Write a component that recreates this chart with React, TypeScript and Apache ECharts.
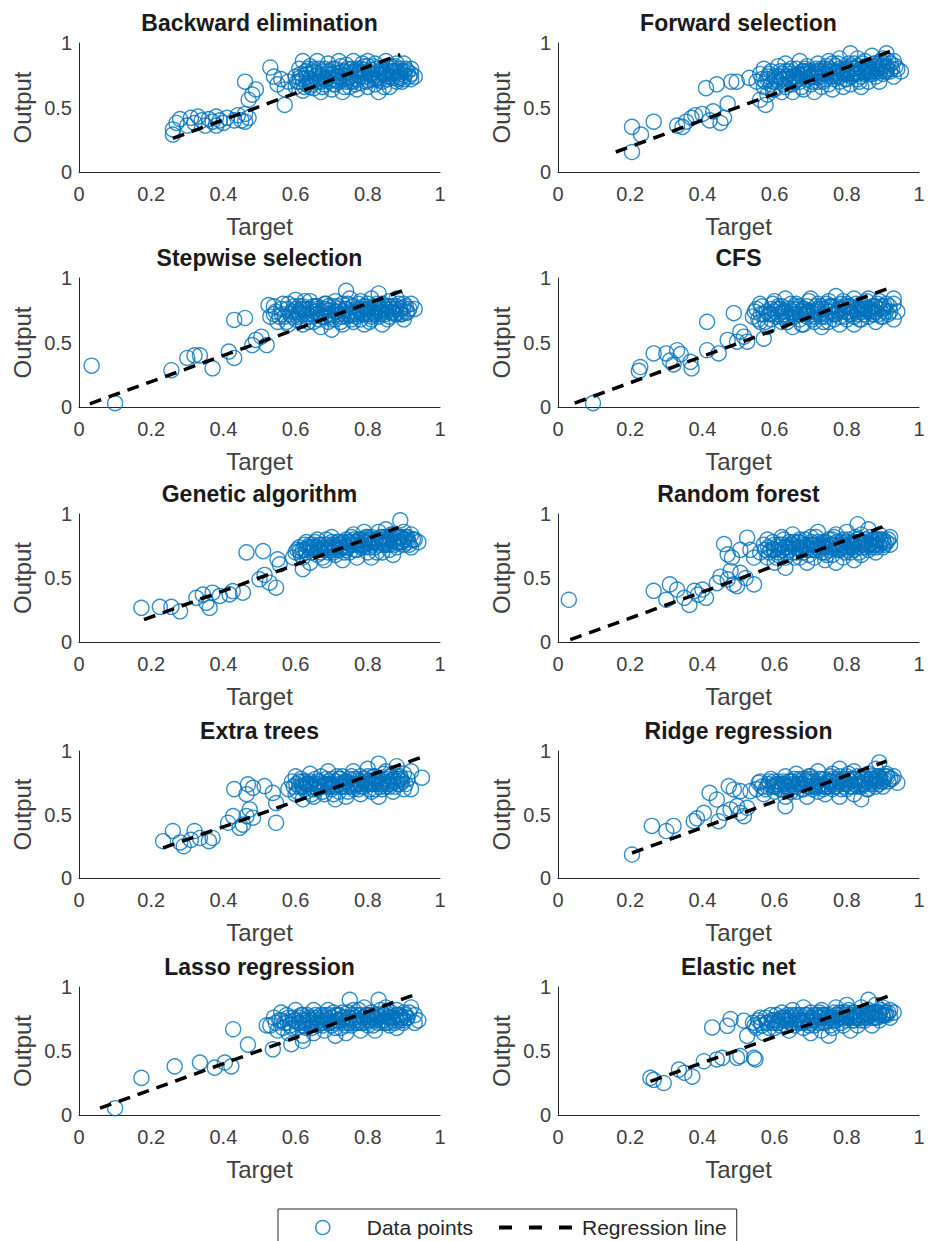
import React, { useEffect, useRef } from "react";
import * as echarts from "echarts";

const titles = [
  "Backward elimination",
  "Forward selection",
  "Stepwise selection",
  "CFS",
  "Genetic algorithm",
  "Random forest",
  "Extra trees",
  "Ridge regression",
  "Lasso regression",
  "Elastic net",
];

const xTickInterval = 0.2;
const yTickInterval = 0.5;

// ---- Backward elimination ----
const backwardPts = [
  [.26,.29],[.26,.33],[.27,.38],[.28,.41],[.30,.36],[.31,.42],[.32,.38],[.33,.43],[.34,.40],[.35,.36],[.36,.41],[.37,.39],[.38,.43],[.38,.36],[.39,.40],[.40,.38],[.41,.42],[.43,.40],[.44,.44],[.45,.40],[.46,.45],[.46,.39],[.47,.42],[.46,.70],[.47,.56],[.48,.60],[.49,.64],[.53,.81],[.54,.74],[.55,.68],[.56,.72],[.57,.52],[.57,.64],[.58,.70],
  [.60,.66],[.60,.74],[.61,.70],[.61,.80],[.62,.63],[.62,.86],[.63,.68],[.63,.76],[.64,.72],[.64,.82],[.65,.65],[.65,.78],[.66,.70],[.66,.86],[.67,.74],[.67,.62],[.68,.80],[.68,.68],[.69,.76],[.69,.84],[.70,.64],[.70,.72],[.71,.80],[.71,.68],[.72,.86],[.72,.74],[.73,.62],[.73,.78],[.74,.70],[.74,.83],[.75,.66],[.75,.76],[.76,.72],[.76,.86],[.77,.80],[.77,.64],[.78,.74],[.78,.69],[.79,.82],[.79,.77],[.80,.66],[.80,.86],[.81,.72],[.81,.79],[.82,.68],[.82,.84],[.83,.75],[.83,.62],[.84,.80],[.84,.70],[.85,.86],[.85,.76],[.86,.66],[.86,.82],[.87,.73],[.87,.78],[.88,.70],[.88,.84],[.89,.76],[.89,.80],[.90,.72],[.90,.84],[.91,.78],[.92,.80],[.93,.74],[.92,.76],
  [.605,.70],[.615,.76],[.625,.66],[.635,.80],[.645,.68],[.655,.74],[.665,.80],[.675,.66],[.685,.72],[.695,.78],[.705,.68],[.715,.74],[.725,.82],[.735,.66],[.745,.74],[.755,.80],[.765,.68],[.775,.76],[.785,.84],[.795,.70],[.805,.76],[.815,.82],[.825,.72],[.835,.78],[.845,.66],[.855,.72],[.865,.78],[.875,.82],[.885,.74],[.895,.70],[.905,.80],[.915,.74],[.62,.72],[.66,.76],[.70,.76],[.74,.78],[.78,.78],[.82,.72],[.86,.74],[.90,.78],[.64,.66],[.68,.72],[.72,.70],[.76,.70],[.80,.82],[.84,.76],[.88,.78],[.92,.72],
];
const backwardCore = [
  [.612,.73],[.628,.78],[.642,.70],[.652,.77],[.668,.72],[.678,.78],[.692,.70],[.702,.80],[.712,.71],[.722,.77],[.732,.72],[.742,.80],[.752,.70],[.762,.78],[.772,.72],[.782,.80],[.792,.74],[.802,.71],[.812,.77],[.822,.80],[.832,.71],[.842,.78],[.852,.74],[.862,.80],[.872,.76],[.882,.72],[.892,.78],[.902,.75],[.63,.73],[.67,.70],[.71,.77],[.75,.73],[.79,.79],[.83,.73],[.87,.81],[.65,.80],[.69,.73],[.73,.75],[.77,.78],[.81,.75],[.85,.79],[.89,.73],
];
const backwardLine = [[.26,.26],[.89,.91]];

// ---- Forward selection ----
const forwardPts = [
  [.205,.35],[.205,.155],[.23,.29],[.265,.39],[.33,.36],[.345,.35],[.355,.39],[.37,.42],[.38,.44],[.40,.45],[.42,.40],[.43,.47],[.45,.38],[.46,.42],[.41,.65],[.47,.53],[.44,.68],[.48,.70],[.495,.70],[.53,.73],[.56,.56],[.575,.52],
  [.55,.70],[.56,.76],[.57,.66],[.57,.80],[.58,.72],[.58,.60],[.59,.68],[.59,.78],[.60,.64],[.60,.74],[.61,.82],[.61,.70],[.62,.76],[.62,.62],[.63,.66],[.63,.84],[.64,.72],[.64,.78],[.65,.62],[.65,.68],[.66,.80],[.66,.74],[.67,.70],[.67,.86],[.68,.64],[.68,.76],[.69,.72],[.69,.82],[.70,.68],[.70,.78],[.71,.62],[.71,.74],[.72,.84],[.72,.70],[.73,.80],[.73,.66],[.74,.76],[.74,.72],[.75,.86],[.75,.68],[.76,.78],[.76,.64],[.77,.74],[.77,.82],[.78,.70],[.78,.88],[.79,.76],[.79,.66],[.80,.80],[.80,.72],[.81,.92],[.81,.68],[.82,.84],[.82,.76],[.83,.72],[.83,.88],[.84,.80],[.84,.66],[.85,.76],[.85,.86],[.86,.70],[.86,.82],[.87,.78],[.87,.90],[.88,.74],[.88,.84],[.89,.80],[.89,.70],[.90,.88],[.90,.76],[.91,.82],[.91,.92],[.92,.78],[.93,.86],[.93,.74],[.94,.80],[.95,.78],
  [.565,.72],[.575,.70],[.585,.76],[.595,.64],[.605,.72],[.615,.78],[.625,.68],[.635,.74],[.645,.80],[.655,.70],[.665,.76],[.675,.66],[.685,.80],[.695,.74],[.705,.70],[.715,.80],[.725,.76],[.735,.70],[.745,.82],[.755,.74],[.765,.72],[.775,.84],[.785,.78],[.795,.72],[.805,.84],[.815,.76],[.825,.80],[.835,.70],[.845,.84],[.855,.80],[.865,.76],[.875,.84],[.885,.80],[.895,.86],[.905,.78],[.915,.86],[.925,.80],[.935,.82],[.62,.72],[.66,.72],[.70,.74],[.74,.80],[.78,.80],[.82,.80],[.86,.78],[.90,.82],[.64,.68],[.68,.78],[.72,.78],[.76,.84],[.80,.76],[.84,.74],[.88,.78],
];
const forwardCore = [
  [.582,.74],[.598,.70],[.612,.74],[.628,.72],[.642,.76],[.652,.74],[.668,.72],[.678,.78],[.692,.76],[.702,.74],[.712,.78],[.722,.74],[.732,.78],[.742,.76],[.752,.80],[.762,.76],[.772,.78],[.782,.74],[.792,.80],[.802,.78],[.812,.74],[.822,.78],[.832,.82],[.842,.78],[.852,.82],[.862,.80],[.872,.76],[.882,.82],[.892,.78],[.902,.84],[.912,.80],[.922,.84],[.63,.78],[.67,.76],[.71,.76],[.75,.78],[.79,.78],[.83,.76],[.87,.82],[.91,.78],[.65,.73],[.69,.78],[.73,.74],[.77,.77],[.81,.82],[.85,.78],[.89,.84],
];
const forwardLine = [[.16,.155],[.935,.95]];

// ---- Stepwise selection ----
const stepwisePts = [
  [.035,.32],[.10,.03],[.256,.285],[.30,.38],[.32,.40],[.335,.40],[.37,.30],[.415,.43],[.43,.38],[.43,.675],[.46,.69],[.48,.48],[.49,.52],[.505,.545],[.52,.48],[.525,.79],[.53,.70],
  [.54,.72],[.54,.78],[.55,.66],[.56,.76],[.57,.70],[.58,.80],[.58,.64],[.59,.74],[.60,.68],[.60,.83],[.61,.72],[.62,.78],[.62,.64],[.63,.70],[.64,.76],[.64,.82],[.65,.66],[.66,.72],[.66,.78],[.67,.62],[.68,.70],[.68,.80],[.69,.66],[.69,.75],[.70,.60],[.70,.72],[.71,.82],[.71,.68],[.72,.76],[.73,.64],[.73,.80],[.74,.70],[.74,.90],[.75,.74],[.75,.84],[.76,.66],[.76,.78],[.77,.72],[.78,.82],[.78,.68],[.79,.76],[.79,.64],[.80,.80],[.80,.72],[.81,.84],[.81,.68],[.82,.76],[.83,.88],[.83,.70],[.84,.80],[.84,.64],[.85,.74],[.86,.82],[.86,.70],[.87,.78],[.88,.72],[.88,.84],[.89,.76],[.90,.80],[.90,.68],[.91,.74],[.92,.80],[.93,.76],
  [.545,.74],[.555,.70],[.565,.80],[.575,.66],[.585,.72],[.595,.78],[.605,.70],[.615,.76],[.625,.82],[.635,.66],[.645,.72],[.655,.78],[.665,.68],[.675,.74],[.685,.80],[.695,.70],[.705,.78],[.715,.74],[.725,.66],[.735,.72],[.745,.80],[.755,.68],[.765,.74],[.775,.80],[.785,.72],[.795,.78],[.805,.66],[.815,.74],[.825,.80],[.835,.72],[.845,.78],[.855,.68],[.865,.76],[.875,.72],[.885,.80],[.895,.72],[.905,.78],[.915,.76],[.60,.76],[.64,.70],[.68,.76],[.72,.72],[.76,.72],[.80,.76],[.84,.74],[.88,.78],[.62,.72],[.66,.76],[.70,.68],[.74,.76],[.78,.76],[.82,.72],[.86,.78],
];
const stepwiseCore = [
  [.562,.72],[.578,.76],[.592,.70],[.608,.74],[.622,.76],[.632,.72],[.648,.78],[.658,.74],[.672,.70],[.682,.76],[.692,.72],[.708,.74],[.718,.78],[.728,.70],[.738,.76],[.748,.72],[.758,.78],[.768,.70],[.778,.74],[.788,.78],[.798,.74],[.808,.72],[.818,.78],[.828,.74],[.838,.76],[.848,.72],[.858,.78],[.868,.73],[.878,.76],[.888,.74],[.898,.77],[.908,.73],[.61,.78],[.65,.74],[.69,.78],[.73,.74],[.77,.76],[.81,.70],[.85,.76],[.89,.72],[.63,.76],[.67,.72],[.71,.74],[.75,.71],[.79,.72],[.83,.78],[.87,.74],
];
const stepwiseLine = [[.03,.025],[.91,.915]];

// ---- CFS ----
const cfsPts = [
  [.097,.03],[.228,.31],[.224,.28],[.265,.415],[.30,.415],[.31,.36],[.32,.33],[.33,.44],[.34,.41],[.367,.35],[.37,.30],[.413,.66],[.413,.44],[.445,.415],[.47,.52],[.487,.727],[.496,.506],[.505,.584],[.515,.545],[.524,.506],[.57,.53],
  [.54,.70],[.55,.76],[.56,.66],[.56,.80],[.57,.72],[.58,.62],[.59,.76],[.59,.68],[.60,.82],[.61,.72],[.62,.66],[.62,.78],[.63,.84],[.64,.70],[.65,.76],[.65,.62],[.66,.80],[.67,.68],[.67,.74],[.68,.64],[.69,.78],[.69,.70],[.70,.84],[.71,.66],[.71,.74],[.72,.80],[.73,.62],[.73,.70],[.74,.76],[.75,.82],[.75,.66],[.76,.72],[.77,.86],[.77,.78],[.78,.64],[.78,.70],[.79,.82],[.80,.74],[.80,.68],[.81,.78],[.82,.84],[.82,.64],[.83,.72],[.84,.80],[.84,.68],[.85,.76],[.86,.84],[.86,.70],[.87,.78],[.88,.66],[.88,.74],[.89,.82],[.90,.76],[.90,.70],[.91,.80],[.92,.74],[.93,.80],[.93,.68],[.94,.74],[.93,.84],
  [.545,.74],[.555,.68],[.565,.78],[.575,.66],[.585,.72],[.595,.80],[.605,.70],[.615,.76],[.625,.72],[.635,.66],[.645,.80],[.655,.70],[.665,.76],[.675,.64],[.685,.72],[.695,.82],[.705,.68],[.715,.78],[.725,.72],[.735,.66],[.745,.80],[.755,.74],[.765,.68],[.775,.74],[.785,.80],[.795,.70],[.805,.78],[.815,.72],[.825,.80],[.835,.68],[.845,.74],[.855,.82],[.865,.76],[.875,.72],[.885,.80],[.895,.70],[.905,.78],[.915,.72],[.60,.74],[.64,.76],[.68,.76],[.72,.74],[.76,.78],[.80,.80],[.84,.76],[.88,.78],[.62,.70],[.66,.72],[.70,.74],[.74,.70],[.78,.76],[.82,.70],[.86,.74],
];
const cfsCore = [
  [.562,.72],[.578,.74],[.592,.72],[.608,.76],[.622,.74],[.632,.70],[.648,.74],[.658,.78],[.672,.72],[.682,.76],[.692,.74],[.708,.72],[.718,.76],[.728,.78],[.738,.72],[.748,.74],[.758,.78],[.768,.72],[.778,.76],[.788,.74],[.798,.78],[.808,.72],[.818,.76],[.828,.74],[.838,.78],[.848,.72],[.858,.76],[.868,.74],[.878,.78],[.888,.72],[.898,.78],[.908,.74],[.918,.78],[.61,.78],[.65,.72],[.69,.74],[.73,.76],[.77,.72],[.81,.74],[.85,.78],[.89,.76],[.63,.74],[.67,.78],[.71,.70],[.75,.78],[.79,.76],[.83,.76],[.87,.72],
];
const cfsLine = [[.046,.03],[.92,.925]];

// ---- Genetic algorithm ----
const geneticPts = [
  [.173,.267],[.224,.275],[.256,.275],[.28,.24],[.325,.345],[.343,.37],[.353,.306],[.362,.267],[.37,.385],[.39,.36],[.417,.372],[.426,.398],[.454,.385],[.464,.70],[.51,.71],[.50,.49],[.514,.524],[.528,.463],[.546,.424],[.55,.646],[.556,.607],[.593,.66],[.62,.57],
  [.60,.70],[.61,.74],[.62,.66],[.63,.78],[.63,.70],[.64,.62],[.65,.74],[.66,.68],[.66,.80],[.67,.72],[.68,.76],[.68,.64],[.69,.70],[.70,.82],[.70,.74],[.71,.68],[.72,.78],[.72,.72],[.73,.64],[.74,.80],[.74,.74],[.75,.70],[.76,.84],[.76,.76],[.77,.66],[.77,.72],[.78,.80],[.79,.74],[.79,.86],[.80,.70],[.80,.78],[.81,.82],[.81,.66],[.82,.74],[.83,.86],[.83,.78],[.84,.70],[.84,.82],[.85,.76],[.85,.88],[.86,.72],[.86,.80],[.87,.84],[.87,.68],[.88,.78],[.88,.74],[.89,.95],[.89,.82],[.90,.76],[.90,.86],[.91,.80],[.92,.74],[.92,.84],[.93,.80],[.94,.78],
  [.605,.72],[.615,.68],[.625,.76],[.635,.74],[.645,.70],[.655,.78],[.665,.72],[.675,.66],[.685,.80],[.695,.74],[.705,.70],[.715,.78],[.725,.74],[.735,.70],[.745,.78],[.755,.82],[.765,.72],[.775,.80],[.785,.76],[.795,.82],[.805,.74],[.815,.78],[.825,.70],[.835,.82],[.845,.76],[.855,.80],[.865,.84],[.875,.76],[.885,.82],[.895,.78],[.905,.82],[.915,.76],[.925,.80],[.64,.76],[.68,.72],[.72,.76],[.76,.80],[.80,.82],[.84,.78],[.88,.82],[.62,.72],[.66,.74],[.70,.78],[.74,.72],[.78,.76],[.82,.78],[.86,.76],[.90,.80],
];
const geneticCore = [
  [.612,.71],[.628,.72],[.642,.74],[.652,.72],[.668,.76],[.678,.74],[.692,.72],[.702,.76],[.712,.74],[.722,.76],[.732,.78],[.742,.74],[.752,.76],[.762,.78],[.772,.76],[.782,.74],[.792,.78],[.802,.80],[.812,.76],[.822,.80],[.832,.76],[.842,.80],[.852,.78],[.862,.82],[.872,.80],[.882,.78],[.892,.82],[.902,.80],[.912,.78],[.65,.76],[.69,.76],[.73,.74],[.77,.78],[.81,.80],[.85,.82],[.89,.78],[.67,.70],[.71,.72],[.75,.78],[.79,.80],[.83,.80],[.87,.78],[.91,.82],
];
const geneticLine = [[.18,.175],[.885,.895]];

// ---- Random forest ----
const forestPts = [
  [.03,.33],[.265,.40],[.30,.33],[.31,.45],[.33,.41],[.35,.345],[.364,.29],[.378,.40],[.388,.37],[.40,.41],[.41,.345],[.44,.46],[.45,.51],[.47,.49],[.478,.555],[.487,.45],[.496,.437],[.505,.54],[.52,.50],[.543,.45],[.46,.765],[.47,.685],[.482,.66],[.505,.72],[.524,.815],[.533,.72],[.543,.66],
  [.56,.70],[.57,.76],[.58,.66],[.58,.80],[.59,.72],[.60,.62],[.60,.76],[.61,.68],[.62,.82],[.62,.72],[.63,.58],[.63,.66],[.64,.78],[.65,.70],[.65,.84],[.66,.74],[.67,.66],[.67,.80],[.68,.70],[.69,.76],[.69,.62],[.70,.82],[.70,.72],[.71,.66],[.72,.78],[.72,.86],[.73,.70],[.74,.74],[.74,.64],[.75,.80],[.76,.68],[.76,.76],[.77,.84],[.77,.62],[.78,.72],[.79,.80],[.79,.66],[.80,.86],[.80,.74],[.81,.70],[.82,.78],[.82,.64],[.83,.92],[.83,.74],[.84,.84],[.84,.68],[.85,.78],[.86,.72],[.86,.88],[.87,.80],[.88,.70],[.88,.76],[.89,.84],[.90,.74],[.90,.80],[.91,.78],[.92,.82],[.92,.76],
  [.575,.72],[.585,.70],[.595,.78],[.605,.66],[.615,.74],[.625,.80],[.635,.70],[.645,.76],[.655,.66],[.665,.78],[.675,.72],[.685,.80],[.695,.68],[.705,.76],[.715,.82],[.725,.72],[.735,.78],[.745,.68],[.755,.76],[.765,.82],[.775,.72],[.785,.78],[.795,.70],[.805,.80],[.815,.74],[.825,.82],[.835,.70],[.845,.78],[.855,.74],[.865,.82],[.875,.76],[.885,.80],[.895,.78],[.905,.76],[.915,.80],[.60,.72],[.64,.74],[.68,.74],[.72,.74],[.76,.80],[.80,.78],[.84,.76],[.88,.80],[.62,.76],[.66,.70],[.70,.76],[.74,.70],[.78,.76],[.82,.72],[.86,.76],
];
const forestCore = [
  [.582,.74],[.598,.72],[.612,.76],[.628,.74],[.642,.72],[.652,.78],[.668,.74],[.678,.76],[.692,.74],[.702,.78],[.712,.72],[.722,.76],[.732,.74],[.742,.78],[.752,.72],[.762,.76],[.772,.78],[.782,.74],[.792,.76],[.802,.72],[.812,.78],[.822,.76],[.832,.78],[.842,.74],[.852,.80],[.862,.76],[.872,.78],[.882,.74],[.892,.80],[.902,.78],[.61,.70],[.65,.76],[.69,.72],[.73,.76],[.77,.76],[.81,.76],[.85,.76],[.89,.76],[.63,.74],[.67,.78],[.71,.76],[.75,.74],[.79,.74],[.83,.80],[.87,.74],
];
const forestLine = [[.034,.018],[.91,.91]];

// ---- Extra trees ----
const extraPts = [
  [.233,.29],[.26,.37],[.28,.28],[.29,.25],[.31,.30],[.32,.37],[.335,.315],[.36,.29],[.37,.315],[.413,.435],[.427,.487],[.445,.395],[.454,.42],[.464,.487],[.473,.54],[.482,.475],[.43,.70],[.468,.737],[.482,.71],[.514,.724],[.464,.66],[.537,.67],[.546,.59],[.546,.435],
  [.58,.70],[.59,.76],[.60,.66],[.60,.80],[.61,.72],[.62,.62],[.62,.76],[.63,.68],[.64,.82],[.64,.72],[.65,.64],[.66,.76],[.66,.70],[.67,.80],[.68,.66],[.68,.74],[.69,.84],[.70,.70],[.70,.78],[.71,.62],[.72,.74],[.72,.68],[.73,.80],[.74,.72],[.74,.64],[.75,.78],[.76,.70],[.76,.84],[.77,.74],[.78,.66],[.78,.80],[.79,.72],[.80,.76],[.80,.86],[.81,.68],[.82,.80],[.82,.74],[.83,.90],[.83,.64],[.84,.70],[.84,.78],[.85,.84],[.86,.72],[.86,.76],[.87,.68],[.88,.80],[.88,.88],[.89,.74],[.90,.82],[.90,.70],[.91,.78],[.92,.70],[.95,.79],[.92,.84],
  [.595,.72],[.605,.68],[.615,.78],[.625,.70],[.635,.74],[.645,.66],[.655,.78],[.665,.72],[.675,.68],[.685,.78],[.695,.72],[.705,.66],[.715,.80],[.725,.72],[.735,.76],[.745,.68],[.755,.80],[.765,.74],[.775,.70],[.785,.78],[.795,.74],[.805,.70],[.815,.80],[.825,.76],[.835,.72],[.845,.82],[.855,.74],[.865,.80],[.875,.72],[.885,.78],[.895,.76],[.905,.74],[.62,.72],[.66,.74],[.70,.74],[.74,.76],[.78,.74],[.82,.70],[.86,.80],[.64,.76],[.68,.72],[.72,.78],[.76,.72],[.80,.80],[.84,.74],[.88,.76],
];
const extraCore = [
  [.602,.74],[.618,.72],[.628,.76],[.642,.74],[.652,.72],[.668,.76],[.678,.74],[.692,.76],[.702,.72],[.712,.76],[.722,.78],[.732,.74],[.742,.76],[.752,.72],[.762,.78],[.772,.76],[.782,.72],[.792,.78],[.802,.74],[.812,.76],[.822,.78],[.832,.74],[.842,.76],[.852,.78],[.862,.74],[.872,.78],[.882,.74],[.892,.78],[.61,.76],[.65,.70],[.69,.74],[.73,.72],[.77,.78],[.81,.74],[.85,.72],[.89,.80],[.63,.74],[.67,.72],[.71,.72],[.75,.74],[.79,.76],[.83,.78],[.87,.76],
];
const extraLine = [[.233,.237],[.945,.947]];

// ---- Ridge regression ----
const ridgePts = [
  [.205,.185],[.26,.41],[.30,.37],[.32,.41],[.376,.447],[.385,.47],[.404,.513],[.42,.67],[.44,.618],[.473,.724],[.487,.697],[.445,.447],[.46,.513],[.478,.54],[.496,.566],[.505,.513],[.515,.487],[.524,.553],[.505,.684],[.533,.684],[.556,.75],[.63,.566],
  [.55,.70],[.56,.76],[.57,.66],[.58,.72],[.59,.78],[.60,.68],[.61,.74],[.62,.70],[.63,.80],[.63,.64],[.64,.72],[.65,.76],[.66,.68],[.66,.82],[.67,.74],[.68,.70],[.68,.78],[.69,.64],[.70,.72],[.70,.80],[.71,.76],[.72,.68],[.72,.84],[.73,.74],[.74,.78],[.74,.66],[.75,.72],[.76,.82],[.76,.70],[.77,.76],[.78,.64],[.78,.86],[.79,.74],[.80,.80],[.80,.70],[.81,.76],[.82,.66],[.82,.84],[.83,.72],[.84,.78],[.84,.62],[.85,.74],[.86,.82],[.86,.70],[.87,.76],[.88,.86],[.88,.72],[.89,.80],[.89,.91],[.90,.76],[.91,.82],[.92,.78],[.93,.80],[.94,.75],
  [.565,.72],[.575,.70],[.585,.76],[.595,.72],[.605,.74],[.615,.70],[.625,.76],[.635,.72],[.645,.68],[.655,.78],[.665,.74],[.675,.70],[.685,.76],[.695,.80],[.705,.70],[.715,.74],[.725,.78],[.735,.70],[.745,.74],[.755,.80],[.765,.72],[.775,.78],[.785,.70],[.795,.76],[.805,.82],[.815,.72],[.825,.78],[.835,.74],[.845,.80],[.855,.70],[.865,.78],[.875,.74],[.885,.80],[.895,.76],[.905,.80],[.915,.76],[.925,.78],[.60,.72],[.64,.76],[.68,.74],[.72,.72],[.76,.76],[.80,.74],[.84,.72],[.88,.78],[.62,.74],[.66,.72],[.70,.76],[.74,.72],[.78,.80],[.82,.78],[.86,.76],[.90,.72],
];
const ridgeCore = [
  [.582,.74],[.598,.76],[.612,.72],[.628,.74],[.642,.76],[.652,.72],[.668,.76],[.678,.74],[.692,.72],[.702,.78],[.712,.72],[.722,.76],[.732,.78],[.742,.72],[.752,.76],[.762,.78],[.772,.74],[.782,.76],[.792,.72],[.802,.78],[.812,.78],[.822,.74],[.832,.76],[.842,.74],[.852,.78],[.862,.74],[.872,.80],[.882,.76],[.892,.78],[.902,.78],[.912,.80],[.61,.76],[.65,.74],[.69,.78],[.73,.72],[.77,.72],[.81,.72],[.85,.76],[.89,.74],[.63,.72],[.67,.78],[.71,.72],[.75,.76],[.79,.78],[.83,.80],[.87,.78],
];
const ridgeLine = [[.205,.197],[.91,.92]];

// ---- Lasso regression ----
const lassoPts = [
  [.10,.053],[.173,.29],[.265,.38],[.335,.41],[.376,.37],[.404,.41],[.422,.38],[.427,.67],[.468,.55],[.52,.70],[.537,.513],[.588,.553],[.62,.58],
  [.53,.70],[.54,.76],[.55,.66],[.56,.80],[.57,.72],[.58,.64],[.58,.76],[.59,.68],[.60,.82],[.61,.72],[.62,.78],[.62,.62],[.63,.68],[.64,.74],[.65,.82],[.65,.64],[.66,.70],[.67,.78],[.68,.72],[.68,.66],[.69,.82],[.70,.76],[.71,.68],[.71,.62],[.72,.74],[.73,.80],[.74,.70],[.74,.64],[.75,.90],[.75,.76],[.76,.82],[.77,.72],[.78,.66],[.78,.78],[.79,.84],[.80,.74],[.80,.70],[.81,.80],[.82,.66],[.83,.90],[.83,.76],[.84,.72],[.85,.84],[.85,.80],[.86,.70],[.87,.76],[.88,.82],[.88,.68],[.89,.74],[.90,.80],[.91,.76],[.92,.84],[.93,.78],[.94,.74],[.93,.72],
  [.545,.72],[.555,.74],[.565,.68],[.575,.78],[.585,.70],[.595,.74],[.605,.68],[.615,.78],[.625,.72],[.635,.76],[.645,.68],[.655,.78],[.665,.74],[.675,.70],[.685,.76],[.695,.72],[.705,.80],[.715,.74],[.725,.68],[.735,.76],[.745,.80],[.755,.70],[.765,.76],[.775,.82],[.785,.72],[.795,.78],[.805,.74],[.815,.70],[.825,.78],[.835,.82],[.845,.74],[.855,.76],[.865,.80],[.875,.72],[.885,.78],[.895,.76],[.905,.78],[.915,.80],[.60,.74],[.64,.72],[.68,.78],[.72,.78],[.76,.72],[.80,.78],[.84,.78],[.88,.74],[.62,.70],[.66,.76],[.70,.70],[.74,.74],[.78,.74],[.82,.74],[.86,.76],[.90,.74],
];
const lassoCore = [
  [.562,.74],[.578,.72],[.592,.76],[.608,.72],[.622,.74],[.632,.78],[.648,.74],[.658,.72],[.672,.76],[.682,.74],[.692,.78],[.708,.72],[.718,.78],[.728,.74],[.738,.72],[.748,.76],[.758,.78],[.768,.74],[.778,.72],[.788,.76],[.798,.72],[.808,.78],[.818,.76],[.828,.72],[.838,.74],[.848,.78],[.858,.72],[.868,.76],[.878,.78],[.888,.76],[.898,.72],[.908,.76],[.61,.76],[.65,.76],[.69,.74],[.73,.76],[.77,.78],[.81,.76],[.85,.72],[.89,.78],[.63,.74],[.67,.72],[.71,.78],[.75,.72],[.79,.76],[.83,.78],[.87,.74],
];
const lassoLine = [[.058,.053],[.925,.935]];

// ---- Elastic net ----
const elasticPts = [
  [.256,.29],[.265,.275],[.293,.25],[.335,.355],[.35,.33],[.372,.30],[.404,.42],[.44,.434],[.455,.447],[.496,.447],[.505,.46],[.543,.447],[.547,.434],[.427,.684],[.469,.697],[.478,.75],[.515,.737],[.524,.618],
  [.54,.72],[.55,.68],[.56,.76],[.57,.64],[.58,.72],[.59,.78],[.60,.68],[.61,.74],[.62,.80],[.63,.70],[.64,.76],[.64,.66],[.65,.82],[.66,.72],[.67,.78],[.68,.68],[.68,.84],[.69,.74],[.70,.64],[.70,.80],[.71,.70],[.72,.76],[.73,.82],[.73,.66],[.74,.72],[.75,.78],[.75,.62],[.76,.68],[.77,.84],[.77,.74],[.78,.80],[.79,.70],[.80,.76],[.80,.86],[.81,.66],[.82,.80],[.82,.74],[.83,.70],[.84,.84],[.84,.78],[.85,.74],[.86,.90],[.86,.82],[.87,.76],[.87,.70],[.88,.86],[.89,.80],[.89,.74],[.90,.84],[.91,.78],[.92,.82],[.93,.80],[.92,.76],
  [.545,.70],[.555,.74],[.565,.70],[.575,.76],[.585,.68],[.595,.72],[.605,.78],[.615,.70],[.625,.74],[.635,.78],[.645,.72],[.655,.70],[.665,.76],[.675,.72],[.685,.78],[.695,.70],[.705,.76],[.715,.74],[.725,.80],[.735,.72],[.745,.76],[.755,.70],[.765,.80],[.775,.76],[.785,.72],[.795,.78],[.805,.82],[.815,.74],[.825,.78],[.835,.76],[.845,.80],[.855,.76],[.865,.78],[.875,.80],[.885,.76],[.895,.82],[.905,.78],[.915,.80],[.60,.74],[.64,.74],[.68,.74],[.72,.72],[.76,.74],[.80,.80],[.84,.74],[.88,.80],[.62,.76],[.66,.78],[.70,.72],[.74,.78],[.78,.76],[.82,.76],[.86,.78],[.90,.78],
];
const elasticCore = [
  [.562,.72],[.578,.72],[.592,.74],[.608,.72],[.622,.76],[.632,.74],[.648,.78],[.658,.74],[.672,.74],[.682,.72],[.692,.76],[.708,.74],[.718,.78],[.728,.76],[.738,.78],[.748,.74],[.758,.76],[.768,.74],[.778,.78],[.788,.76],[.798,.74],[.808,.78],[.818,.80],[.828,.76],[.838,.78],[.848,.76],[.858,.80],[.868,.78],[.878,.76],[.888,.80],[.898,.78],[.908,.80],[.61,.72],[.65,.76],[.69,.78],[.73,.78],[.77,.78],[.81,.76],[.85,.78],[.89,.78],[.63,.76],[.67,.74],[.71,.78],[.75,.76],[.79,.80],[.83,.78],[.87,.80],
];
const elasticLine = [[.256,.263],[.92,.934]];

const pointSets = [
  backwardPts.concat(backwardCore),
  forwardPts.concat(forwardCore),
  stepwisePts.concat(stepwiseCore),
  cfsPts.concat(cfsCore),
  geneticPts.concat(geneticCore),
  forestPts.concat(forestCore),
  extraPts.concat(extraCore),
  ridgePts.concat(ridgeCore),
  lassoPts.concat(lassoCore),
  elasticPts.concat(elasticCore),
];
const lineSets = [backwardLine, forwardLine, stepwiseLine, cfsLine, geneticLine, forestLine, extraLine, ridgeLine, lassoLine, elasticLine];

const FONT = "'Liberation Sans', Arial, Helvetica, sans-serif";
const BLUE = "#0072BD";
const gridLefts = [79, 558];
const gridTops = [43, 278, 514, 751, 987];
const gridHeights = [129, 129, 128, 127, 128];
const gridWidth = 361;

function buildOption() {
  const grid: any[] = [];
  const xAxis: any[] = [];
  const yAxis: any[] = [];
  const title: any[] = [];
  const series: any[] = [];
  const fmt = (v: number) => String(Math.round(v * 10) / 10);
  titles.forEach((t, i) => {
    const row = Math.floor(i / 2);
    const col = i % 2;
    const left = gridLefts[col];
    const top = gridTops[row];
    grid.push({ left, top, width: gridWidth, height: gridHeights[row], containLabel: false });
    title.push({
      text: t,
      left: left + gridWidth / 2,
      top: top - 32,
      padding: 0,
      textAlign: "center",
      textVerticalAlign: "top",
      textStyle: { fontSize: 23, fontWeight: "bold", color: "#1a1a1a", fontFamily: FONT },
    });
    xAxis.push({
      gridIndex: i,
      type: "value",
      min: 0,
      max: 1,
      interval: xTickInterval,
      splitLine: { show: false },
      axisTick: { show: false },
      axisLine: { show: true, onZero: false, lineStyle: { color: "#262626", width: 1 } },
      axisLabel: { fontSize: 20, color: "#404040", margin: 12, fontFamily: FONT, formatter: fmt },
      name: "Target",
      nameLocation: "middle",
      nameGap: 42,
      nameTextStyle: { fontSize: 24, color: "#404040", fontFamily: FONT },
    });
    yAxis.push({
      gridIndex: i,
      type: "value",
      min: 0,
      max: 1,
      interval: yTickInterval,
      splitLine: { show: false },
      axisTick: { show: false },
      axisLine: { show: true, onZero: false, lineStyle: { color: "#262626", width: 1 } },
      axisLabel: { fontSize: 20, color: "#404040", margin: 7, fontFamily: FONT, formatter: fmt },
      name: "Output",
      nameLocation: "middle",
      nameGap: 45,
      nameTextStyle: { fontSize: 24, color: "#404040", fontFamily: FONT },
    });
    series.push({
      name: "Data points",
      type: "scatter",
      xAxisIndex: i,
      yAxisIndex: i,
      data: pointSets[i],
      symbol: "circle",
      symbolSize: 15,
      itemStyle: { color: "rgba(0,0,0,0)", borderColor: BLUE, borderWidth: 1.4 },
      silent: true,
      z: 2,
    });
    series.push({
      name: "Regression line",
      type: "line",
      xAxisIndex: i,
      yAxisIndex: i,
      data: lineSets[i],
      symbol: "none",
      itemStyle: { color: "rgba(0,0,0,0)" },
      lineStyle: { color: "#000", width: 3.5, type: [12, 8] },
      silent: true,
      z: 3,
    });
  });
  return {
    animation: false,
    backgroundColor: "#ffffff",
    title,
    grid,
    xAxis,
    yAxis,
    series,
    legend: {
      show: true,
      left: 278,
      top: 1209,
      orient: "horizontal",
      itemWidth: 78,
      itemHeight: 14,
      itemGap: 24,
      padding: [8, 10, 14, 37],
      borderColor: "#262626",
      borderWidth: 1,
      selectedMode: false,
      textStyle: { fontSize: 21, color: "#262626", fontFamily: FONT },
      data: [
        { name: "Data points", icon: "circle", itemStyle: { color: "rgba(0,0,0,0)", borderColor: BLUE, borderWidth: 1.5 } },
        { name: "Regression line", itemStyle: { color: "rgba(0,0,0,0)", borderColor: "rgba(0,0,0,0)", borderWidth: 0 }, lineStyle: { color: "#000", width: 4, type: [13, 17] } },
      ],
    },
  };
}

export default function App() {
  const ref = useRef<HTMLDivElement>(null);
  useEffect(() => {
    if (!ref.current) return;
    const chart = echarts.init(ref.current, null, { renderer: "svg" });
    chart.setOption(buildOption() as any);
    return () => chart.dispose();
  }, []);
  return (
    <div
      ref={ref}
      style={{ position: "absolute", left: 0, top: 0, width: 928, height: 1241, background: "#fff" }}
    />
  );
}
